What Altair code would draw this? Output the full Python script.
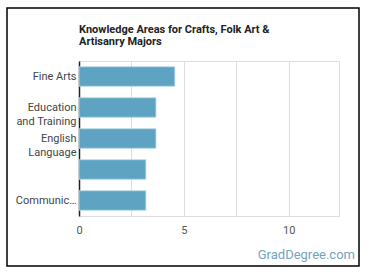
import altair as alt
import pandas as pd

categories = ["Fine Arts", "Education|and Training", "English|Language", " ", "Communications"]
values = [4.57, 3.67, 3.67, 3.19, 3.19]
title_lines = ["Knowledge Areas for Crafts, Folk Art &", "Artisanry Majors"]
tick_values = [0, 2.5, 5, 7.5, 10]
x_max = 12.4
watermark = "GradDegree.com"

df = pd.DataFrame({"cat": categories, "val": values})

FONT = "Roboto"

bars = alt.Chart(df).mark_bar(color="#5ea3c1", stroke="#b5d9e6", strokeWidth=0.8).encode(
    x=alt.X("val:Q", scale=alt.Scale(domain=[0, x_max], nice=False, zero=True),
            axis=alt.Axis(values=tick_values, title=None, domain=False, ticks=False,
                          labelExpr="datum.value % 5 == 0 ? datum.label : ''",
                          labelFlush=False,
                          gridColor="#dddddd", labelColor="#555555", labelFontSize=11,
                          labelFont=FONT, labelPadding=8)),
    y=alt.Y("cat:N", sort=categories,
            scale=alt.Scale(paddingInner=0.37, paddingOuter=0.185),
            axis=alt.Axis(title=None, ticks=False, domainColor="#222222", domainWidth=1.5,
                          labelExpr="split(datum.label, '|')", labelLineHeight=14,
                          labelColor="#444444", labelFontSize=11, labelFont=FONT,
                          labelLimit=62, labelPadding=3, grid=False)),
)

title = alt.Chart(pd.DataFrame({"t": ["\n".join(title_lines)]})).mark_text(
    align="left", baseline="alphabetic", fontSize=11, font=FONT, fontWeight="bold",
    color="#222222", lineBreak="\n", lineHeight=12
).encode(x=alt.value(0), y=alt.value(-28), text="t:N")

wm = alt.Chart(pd.DataFrame({"t": [watermark]})).mark_text(
    align="right", baseline="alphabetic", fontSize=13, font=FONT, color="#72a3c0"
).encode(x=alt.value(276), y=alt.value(198), text="t:N")

frame = alt.Chart(pd.DataFrame({"a": [1]})).mark_rect(
    fill=None, stroke="#000000", strokeWidth=1.5, clip=False
).encode(x=alt.value(-72), x2=alt.value(280), y=alt.value(-53), y2=alt.value(205))

chart = alt.layer(bars, title, wm, frame).properties(
    width=260, height=155,
    padding={"left": 79, "top": 61, "right": 31, "bottom": 62},
    autosize=alt.AutoSizeParams(type="none"),
).configure_view(stroke=None).configure(background="white")

chart.save("out.html", embed_options={"renderer": "svg", "actions": False})
